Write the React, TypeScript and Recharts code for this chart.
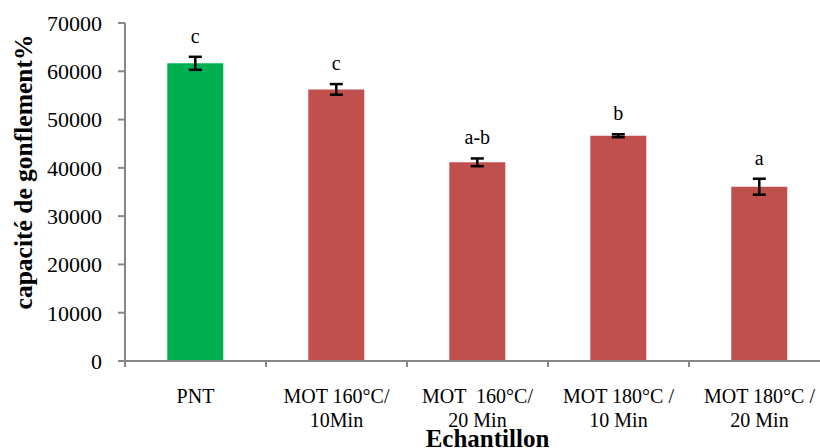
import { Bar, BarChart, Cell, ErrorBar, LabelList, XAxis, YAxis } from 'recharts'

const categories = ['PNT', 'MOT 160°C/|10Min', 'MOT  160°C/|20 Min', 'MOT 180°C /|10 Min', 'MOT 180°C /|20 Min']
const values = [61650, 56250, 41150, 46650, 36100]
const errors = [1350, 1100, 800, 300, 1650]
const letters = ['c', 'c', 'a-b', 'b', 'a']
const barColors = ['#00B050', '#C0504D', '#C0504D', '#C0504D', '#C0504D']
const yTicks = [0, 10000, 20000, 30000, 40000, 50000, 60000, 70000]

const data = categories.map((name, i) => ({ name, value: values[i], err: errors[i], letter: letters[i] }))

const FONT = '"Liberation Serif", "Times New Roman", serif'
const AXIS = '#878787'

function CategoryTick({ x, y, payload }: any) {
  const half = payload?.offset ?? 0
  const [line1, line2] = String(payload.value).split('|')
  return (
    <g>
      <line x1={x - half} x2={x - half} y1={y} y2={y + 6} stroke={AXIS} strokeWidth={2} />
      <text x={x} y={y + 42} textAnchor="middle" fontFamily={FONT} fontSize={20} fill="#000" style={{ whiteSpace: 'pre' }}>
        <tspan x={x}>{line1}</tspan>
        {line2 && (
          <tspan x={x} dy={24}>
            {line2}
          </tspan>
        )}
      </text>
    </g>
  )
}

// letter sits a little above the top of the error bar
function LetterLabel({ x, y, width, height, value, index }: any) {
  const pxPerUnit = height / values[index]
  const top = y - errors[index] * pxPerUnit
  return (
    <text x={x + width / 2} y={top - 14} textAnchor="middle" fontFamily={FONT} fontSize={20} fill="#000">
      {value}
    </text>
  )
}

export default function App() {
  return (
    <div style={{ position: 'absolute', left: 0, top: 0, width: 820, height: 448, overflow: 'hidden', background: '#fff' }}>
      <BarChart width={840} height={448} data={data} margin={{ top: 23, right: 10, left: 0, bottom: 0 }} barCategoryGap="30%">
        <XAxis
          dataKey="name"
          height={87}
          interval={0}
          tickSize={0}
          tickMargin={0}
          tickLine={false}
          axisLine={{ stroke: AXIS, strokeWidth: 2 }}
          tick={<CategoryTick />}
          label={{
            content: ({ viewBox }: any) => (
              <text x={viewBox.x + viewBox.width / 2 + 10} y={447} textAnchor="middle" fontFamily={FONT} fontSize={25} fontWeight="bold" fill="#000">
                Echantillon
              </text>
            )
          }}
        />
        <YAxis
          width={125}
          domain={[0, 70000]}
          ticks={yTicks}
          interval={0}
          tickSize={7}
          tickMargin={16}
          tickLine={{ stroke: AXIS, strokeWidth: 2 }}
          axisLine={{ stroke: AXIS, strokeWidth: 2 }}
          tick={{ fill: '#000', fontSize: 22, fontFamily: FONT }}
          label={{
            content: ({ viewBox }: any) => (
              <text
                transform={`translate(${viewBox.x + 32}, ${viewBox.y + viewBox.height / 2 - 20}) rotate(-90)`}
                textAnchor="middle"
                fontFamily={FONT}
                fontSize={25.5}
                fontWeight="bold"
                fill="#000"
              >
                capacité de gonflement%
              </text>
            )
          }}
        />
        <Bar dataKey="value" isAnimationActive={false}>
          {data.map((d, i) => (
            <Cell key={d.name} fill={barColors[i]} />
          ))}
          <ErrorBar dataKey="err" width={6.5} stroke="#000" strokeWidth={2.5} isAnimationActive={false} />
          <LabelList dataKey="letter" content={<LetterLabel />} />
        </Bar>
      </BarChart>
    </div>
  )
}
